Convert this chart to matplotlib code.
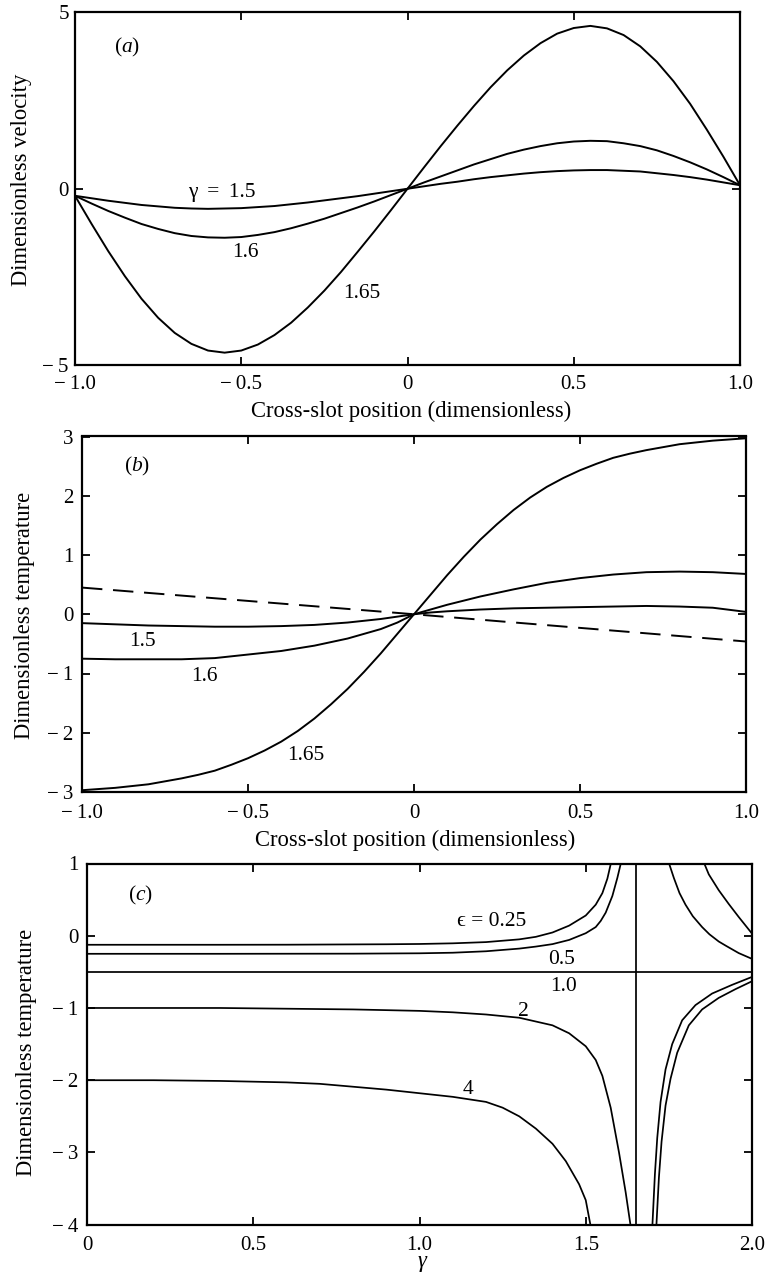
import matplotlib
matplotlib.use('Agg')
import matplotlib.pyplot as plt

plt.rcParams['font.family'] = ['Liberation Serif', 'DejaVu Serif']
plt.rcParams['mathtext.fontset'] = 'custom'
plt.rcParams['mathtext.rm'] = 'Liberation Serif'
plt.rcParams['mathtext.it'] = 'Liberation Serif:italic'

# ---------------- panel (a): velocity ----------------
pos_a = [-1.0, -0.95, -0.9, -0.85, -0.8, -0.75, -0.7, -0.65, -0.6, -0.55, -0.5,
         -0.45, -0.4, -0.35, -0.3, -0.25, -0.2, -0.15, -0.1, -0.05, 0.0,
         0.05, 0.1, 0.15, 0.2, 0.25, 0.3, 0.35, 0.4, 0.45, 0.5,
         0.55, 0.6, 0.65, 0.7, 0.75, 0.8, 0.85, 0.9, 0.95, 1.0]
vel_150 = [-0.20, -0.27, -0.34, -0.40, -0.46, -0.50, -0.54, -0.56, -0.57, -0.56, -0.55,
           -0.52, -0.49, -0.44, -0.39, -0.33, -0.27, -0.21, -0.14, -0.07, 0.00,
           0.07, 0.14, 0.20, 0.27, 0.33, 0.38, 0.43, 0.47, 0.50, 0.52,
           0.53, 0.53, 0.51, 0.49, 0.44, 0.39, 0.33, 0.26, 0.18, 0.10]
vel_160 = [-0.20, -0.42, -0.63, -0.82, -1.00, -1.14, -1.26, -1.34, -1.38, -1.39, -1.37,
           -1.31, -1.23, -1.12, -0.99, -0.85, -0.69, -0.53, -0.36, -0.18, 0.00,
           0.18, 0.35, 0.52, 0.69, 0.84, 0.99, 1.11, 1.21, 1.29, 1.34,
           1.36, 1.35, 1.29, 1.21, 1.09, 0.93, 0.75, 0.55, 0.33, 0.10]
vel_165 = [-0.20, -1.00, -1.77, -2.48, -3.12, -3.66, -4.09, -4.40, -4.59, -4.65, -4.59,
           -4.42, -4.15, -3.80, -3.37, -2.89, -2.36, -1.79, -1.21, -0.61, 0.00,
           0.61, 1.21, 1.79, 2.35, 2.88, 3.36, 3.78, 4.13, 4.40, 4.56,
           4.62, 4.55, 4.36, 4.04, 3.60, 3.05, 2.41, 1.68, 0.91, 0.10]

# ---------------- panel (b): temperature vs position ----------------
pos_b = pos_a
temp_165 = [-2.97, -2.95, -2.93, -2.90, -2.87, -2.82, -2.77, -2.71, -2.64, -2.54, -2.43,
            -2.30, -2.15, -1.97, -1.76, -1.52, -1.26, -0.97, -0.66, -0.33, 0.00,
            0.33, 0.66, 0.97, 1.26, 1.52, 1.76, 1.97, 2.15, 2.30, 2.43,
            2.54, 2.64, 2.71, 2.77, 2.82, 2.87, 2.90, 2.93, 2.95, 2.97]
pos_b_short = [-1.0, -0.9, -0.8, -0.7, -0.6, -0.5, -0.4, -0.3, -0.2, -0.1, -0.05, 0.0,
               0.05, 0.1, 0.2, 0.3, 0.4, 0.5, 0.6, 0.7, 0.8, 0.9, 1.0]
temp_150 = [-0.15, -0.17, -0.19, -0.20, -0.21, -0.21, -0.20, -0.18, -0.14, -0.08, -0.04, 0.00,
            0.03, 0.05, 0.08, 0.10, 0.11, 0.12, 0.13, 0.14, 0.13, 0.11, 0.04]
temp_160 = [-0.75, -0.76, -0.76, -0.76, -0.74, -0.68, -0.62, -0.53, -0.41, -0.25, -0.14, 0.00,
            0.08, 0.16, 0.30, 0.42, 0.53, 0.61, 0.67, 0.71, 0.72, 0.71, 0.68]
dash_pos = [-1.0, 0.0, 1.0]
dash_temp = [0.45, 0.0, -0.46]

# ---------------- panel (c): temperature vs gamma ----------------
eps025_left_g = [0.0, 0.2, 0.4, 0.6, 0.8, 0.9, 1.0, 1.1, 1.2, 1.3, 1.35, 1.4, 1.45, 1.5,
                 1.53, 1.55, 1.565, 1.578]
eps025_left_T = [-0.125, -0.125, -0.125, -0.124, -0.12, -0.118, -0.114, -0.105, -0.088,
                 -0.05, -0.015, 0.045, 0.14, 0.28, 0.43, 0.59, 0.79, 1.05]
eps05_left_g = [0.0, 0.4, 0.8, 1.0, 1.1, 1.2, 1.3, 1.35, 1.4, 1.45, 1.5, 1.53, 1.545,
                1.56, 1.58, 1.595, 1.608]
eps05_left_T = [-0.25, -0.25, -0.248, -0.243, -0.235, -0.215, -0.178, -0.15, -0.116,
                -0.058, 0.035, 0.12, 0.205, 0.32, 0.55, 0.80, 1.05]
eps1_g = [0.0, 2.0]
eps1_T = [-0.5, -0.5]
eps2_left_g = [0.0, 0.4, 0.8, 1.0, 1.1, 1.2, 1.3, 1.4, 1.45, 1.5, 1.53, 1.55, 1.575,
               1.6, 1.62, 1.636]
eps2_left_T = [-1.0, -1.0, -1.02, -1.04, -1.06, -1.09, -1.135, -1.24, -1.35, -1.53,
               -1.72, -1.94, -2.38, -3.0, -3.55, -4.05]
eps4_left_g = [0.0, 0.2, 0.4, 0.6, 0.7, 0.8, 0.9, 1.0, 1.1, 1.2, 1.25, 1.3, 1.35, 1.4,
               1.44, 1.48, 1.5, 1.516]
eps4_left_T = [-2.0, -2.0, -2.01, -2.03, -2.05, -2.09, -2.13, -2.18, -2.23, -2.30, -2.38,
               -2.50, -2.67, -2.88, -3.12, -3.44, -3.66, -4.05]
eps025_right_g = [1.852, 1.87, 1.90, 1.93, 1.96, 2.0]
eps025_right_T = [1.05, 0.85, 0.63, 0.44, 0.26, 0.03]
eps05_right_g = [1.747, 1.765, 1.782, 1.80, 1.822, 1.85, 1.872, 1.90, 1.922, 1.96, 2.0]
eps05_right_T = [1.05, 0.80, 0.59, 0.43, 0.27, 0.12, 0.02, -0.08, -0.14, -0.24, -0.32]
eps2_right_g = [1.700, 1.708, 1.715, 1.725, 1.74, 1.76, 1.79, 1.83, 1.88, 1.94, 2.0]
eps2_right_T = [-4.05, -3.3, -2.8, -2.3, -1.85, -1.5, -1.17, -0.96, -0.80, -0.68, -0.57]
eps4_right_g = [1.712, 1.72, 1.728, 1.74, 1.755, 1.775, 1.81, 1.85, 1.90, 1.95, 2.0]
eps4_right_T = [-4.05, -3.35, -2.85, -2.35, -1.98, -1.62, -1.24, -1.02, -0.86, -0.74, -0.63]
asymptote_gamma = 1.651

# tick labels (minus sign followed by a thin space, as typeset in the original)
M = '\u2212\u2009'
xt_pos = [-1.0, -0.5, 0.0, 0.5, 1.0]
xt_pos_lbl = [M + '1.0', M + '0.5', '0', '0.5', '1.0']
yt_a = [-5, 0, 5]
yt_a_lbl = [M + '5', '0', '5']
yt_b = [-3, -2, -1, 0, 1, 2, 3]
yt_b_lbl = [M + '3', M + '2', M + '1', '0', '1', '2', '3']
xt_c = [0.0, 0.5, 1.0, 1.5, 2.0]
xt_c_lbl = ['0', '0.5', '1.0', '1.5', '2.0']
yt_c = [-4, -3, -2, -1, 0, 1]
yt_c_lbl = [M + '4', M + '3', M + '2', M + '1', '0', '1']

W, H = 770.0, 1277.0
fig = plt.figure(figsize=(7.7, 12.77), dpi=100)


def rect(left, right, top, bottom):
    return [left / W, 1 - bottom / H, (right - left) / W, (bottom - top) / H]


ax_a = fig.add_axes(rect(75, 740, 12.5, 365))
ax_b = fig.add_axes(rect(82, 746, 436.5, 792))
ax_c = fig.add_axes(rect(87, 752, 863.5, 1224.7))

LW = 1.4
SPINE = 1.6
FS_TICK = 15
FS_LAB = 16.3
FS_TXT = 15.5


def style(ax, xpad, ypad):
    for s in ax.spines.values():
        s.set_linewidth(SPINE)
    ax.tick_params(direction='in', length=6, width=1.3, top=True, right=True,
                   labelsize=FS_TICK)
    ax.tick_params(axis='x', pad=xpad)
    ax.tick_params(axis='y', pad=ypad)


# panel (a)
ax_a.plot(pos_a, vel_150, color='black', lw=LW)
ax_a.plot(pos_a, vel_160, color='black', lw=LW)
ax_a.plot(pos_a, vel_165, color='black', lw=LW)
ax_a.set_xlim(-1, 1)
ax_a.set_ylim(-5, 5)
ax_a.set_xticks(xt_pos, xt_pos_lbl)
ax_a.set_yticks(yt_a, yt_a_lbl)
style(ax_a, 7, 4.5)
ax_a.text(-0.844, 4.02, '($\\mathit{a}$)', fontsize=FS_TXT, ha='center', va='center')
ax_a.text(-0.558, -0.10, '\u03b3\u2009 = \u20091.5', fontsize=FS_TXT, ha='center', va='center')
ax_a.text(-0.486, -1.82, '1.6', fontsize=FS_TXT, ha='center', va='center')
ax_a.text(-0.137, -2.96, '1.65', fontsize=FS_TXT, ha='center', va='center')

# panel (b)
ax_b.plot(dash_pos, dash_temp, color='black', lw=LW, linestyle=(0, (10.5, 5.5)))
ax_b.plot(pos_b_short, temp_150, color='black', lw=LW)
ax_b.plot(pos_b_short, temp_160, color='black', lw=LW)
ax_b.plot(pos_b, temp_165, color='black', lw=LW)
ax_b.set_xlim(-1, 1)
ax_b.set_ylim(-3, 3)
ax_b.set_xticks(xt_pos, xt_pos_lbl)
ax_b.set_yticks(yt_b, yt_b_lbl)
style(ax_b, 9, 6)
ax_b.text(-0.835, 2.49, '($\\mathit{b}$)', fontsize=FS_TXT, ha='center', va='center')
ax_b.text(-0.818, -0.46, '1.5', fontsize=FS_TXT, ha='center', va='center')
ax_b.text(-0.63, -1.05, '1.6', fontsize=FS_TXT, ha='center', va='center')
ax_b.text(-0.326, -2.38, '1.65', fontsize=FS_TXT, ha='center', va='center')

# panel (c)
LWc = 1.25
for g, t in [(eps025_left_g, eps025_left_T), (eps05_left_g, eps05_left_T),
             (eps1_g, eps1_T), (eps2_left_g, eps2_left_T), (eps4_left_g, eps4_left_T),
             (eps025_right_g, eps025_right_T), (eps05_right_g, eps05_right_T),
             (eps2_right_g, eps2_right_T), (eps4_right_g, eps4_right_T)]:
    ax_c.plot(g, t, color='black', lw=LWc)
ax_c.axvline(asymptote_gamma, color='black', lw=LWc)
ax_c.set_xlim(0, 2)
ax_c.set_ylim(-4, 1)
ax_c.set_xticks(xt_c, xt_c_lbl)
ax_c.set_yticks(yt_c, yt_c_lbl)
style(ax_c, 8, 6)
ax_c.text(0.161, 0.564, '($\\mathit{c}$)', fontsize=FS_TXT, ha='center', va='center')
ax_c.text(1.217, 0.20, '\u03f5 = 0.25', fontsize=FS_TXT, ha='center', va='center')
ax_c.text(1.428, -0.33, '0.5', fontsize=FS_TXT, ha='center', va='center')
ax_c.text(1.432, -0.70, '1.0', fontsize=FS_TXT, ha='center', va='center')
ax_c.text(1.312, -1.05, '2', fontsize=FS_TXT, ha='center', va='center')
ax_c.text(1.147, -2.13, '4', fontsize=FS_TXT, ha='center', va='center')


# axis labels (figure pixel positions)
def ftext(px, py, s, **kw):
    fig.text(px / W, 1 - py / H, s, ha='center', va='center', fontsize=FS_LAB, **kw)


ftext(22, 180, 'Dimensionless velocity', rotation=90)
ftext(411, 411, 'Cross-slot position (dimensionless)')
ftext(25, 615, 'Dimensionless temperature', rotation=90)
ftext(415, 840, 'Cross-slot position (dimensionless)')
ftext(27, 1052, 'Dimensionless temperature', rotation=90)
ftext(423, 1263, '$\\gamma$')

fig.savefig('out.png', dpi=100)
